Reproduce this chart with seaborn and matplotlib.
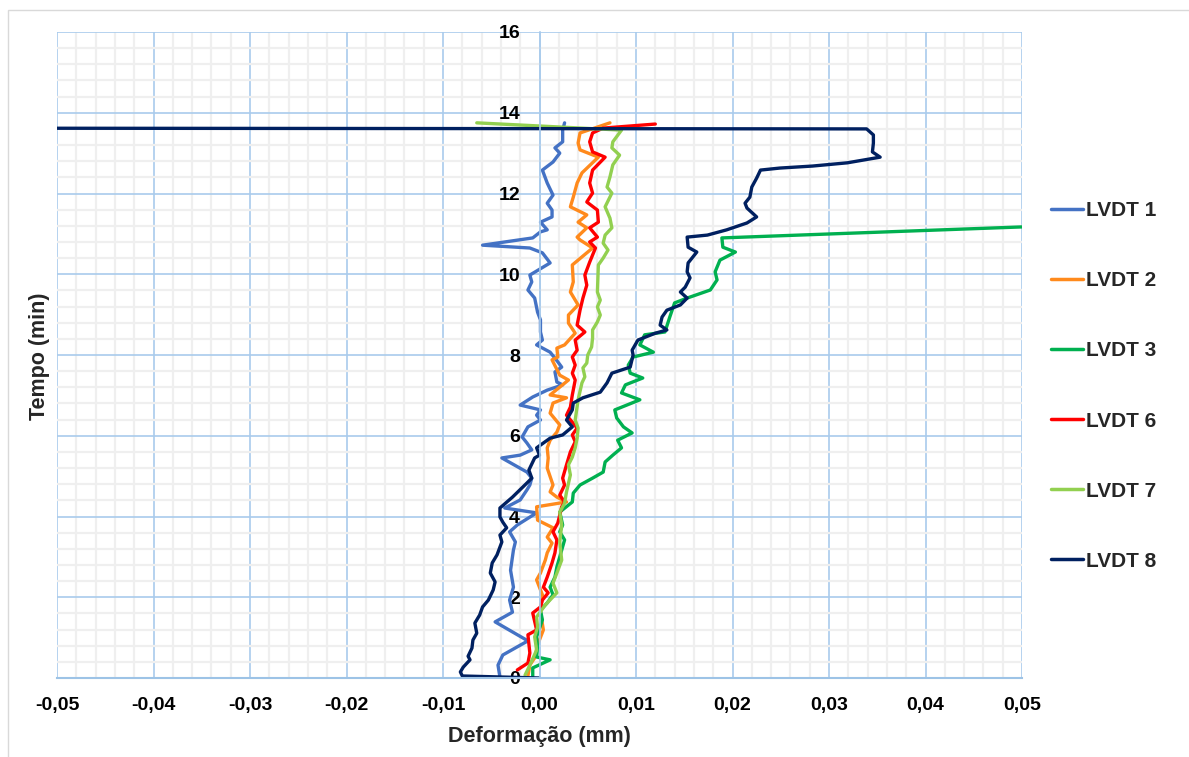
import numpy as np
import pandas as pd
import matplotlib.pyplot as plt
import matplotlib.ticker as mticker
from matplotlib.patches import Rectangle
import seaborn as sns

# valores (deformacao em mm, tempo em min)
lvdt1_x = [-0.0041, -0.0043, -0.0038, -0.0012, -0.0046, -0.0028, -0.0031, -0.0027, -0.0030, -0.0027,
           -0.0025, -0.0031, -0.0023, -0.0003, -0.0036, -0.0020, -0.0013, -0.0010, -0.0008, -0.0013,
           -0.0039, -0.0020, -0.0008, -0.0013, -0.0018, -0.0012, 0.0001, -0.0003, 0.0001, -0.0020,
           -0.0007, 0.0008, 0.0024, 0.0018, 0.0016, 0.0023, 0.0019, 0.0011, -0.0003, 0.0003,
           0.0001, 0.0001, -0.0002, -0.0005, -0.0012, -0.0008, -0.0010, 0.0011, 0.0003, -0.0010,
           -0.0059, -0.0007, 0.0001, 0.0008, 0.0001, 0.0013, 0.0013, 0.0008, 0.0014, 0.0008,
           0.0003, 0.0014, 0.0021, 0.0016, 0.0024, 0.0024, 0.0026]
lvdt1_t = [0.02, 0.32, 0.57, 0.92, 1.39, 1.63, 1.93, 2.25, 2.67, 3.17,
           3.37, 3.62, 3.79, 4.09, 4.21, 4.41, 4.66, 4.78, 4.95, 5.10,
           5.45, 5.52, 5.65, 5.82, 5.97, 6.22, 6.39, 6.51, 6.64, 6.76,
           6.96, 7.13, 7.26, 7.33, 7.58, 7.70, 7.83, 8.07, 8.25, 8.37,
           8.57, 8.87, 9.06, 9.41, 9.61, 9.81, 9.98, 10.28, 10.53, 10.65,
           10.72, 10.90, 11.05, 11.10, 11.29, 11.42, 11.59, 11.76, 11.96, 12.26,
           12.58, 12.78, 13.00, 13.13, 13.28, 13.57, 13.75]

lvdt2_x = [-0.0012, -0.0010, -0.0005, -0.0002, 0.0004, 0.0001, 0.0003, -0.0003, 0.0001, 0.0006,
           0.0008, 0.0013, 0.0008, 0.0014, -0.0002, -0.0003, 0.0028, 0.0018, 0.0011, 0.0014,
           0.0008, 0.0009, 0.0008, 0.0011, 0.0018, 0.0021, 0.0011, 0.0014, 0.0028, 0.0011,
           0.0030, 0.0021, 0.0013, 0.0019, 0.0018, 0.0026, 0.0037, 0.0030, 0.0030, 0.0040,
           0.0032, 0.0035, 0.0034, 0.0055, 0.0042, 0.0039, 0.0049, 0.0040, 0.0049, 0.0032,
           0.0035, 0.0039, 0.0044, 0.0061, 0.0042, 0.0040, 0.0042, 0.0073]
lvdt2_t = [0.05, 0.32, 0.50, 0.82, 1.19, 1.63, 2.06, 2.43, 2.60, 2.92,
           3.10, 3.34, 3.49, 3.72, 3.91, 4.24, 4.36, 4.48, 4.61, 4.78,
           5.20, 5.45, 5.70, 5.89, 6.09, 6.27, 6.56, 6.81, 6.94, 7.01,
           7.38, 7.50, 7.88, 7.95, 8.17, 8.25, 8.54, 8.79, 8.99, 9.24,
           9.56, 9.81, 10.23, 10.65, 10.85, 10.92, 11.15, 11.29, 11.47, 11.67,
           11.91, 12.26, 12.51, 12.90, 13.08, 13.25, 13.50, 13.75]

lvdt3_x = [-0.0007, -0.0007, 0.0011, -0.0003, -0.0002, -0.0003, 0.0003, 0.0001, 0.0008, 0.0014,
           0.0011, 0.0016, 0.0018, 0.0021, 0.0026, 0.0021, 0.0024, 0.0021, 0.0034, 0.0035,
           0.0042, 0.0055, 0.0066, 0.0068, 0.0076, 0.0085, 0.0081, 0.0096, 0.0087, 0.0080,
           0.0078, 0.0104, 0.0085, 0.0089, 0.0107, 0.0094, 0.0092, 0.0097, 0.0118, 0.0104,
           0.0109, 0.0130, 0.0135, 0.0140, 0.0153, 0.0177, 0.0184, 0.0182, 0.0187, 0.0203,
           0.0190, 0.0189, 0.0600]
lvdt3_t = [0.05, 0.25, 0.45, 0.52, 0.77, 1.02, 1.44, 1.68, 1.86, 2.06,
           2.25, 2.50, 2.75, 3.00, 3.42, 3.62, 3.79, 4.11, 4.36, 4.58,
           4.78, 4.95, 5.10, 5.35, 5.52, 5.70, 5.89, 6.07, 6.22, 6.44,
           6.64, 6.89, 7.06, 7.26, 7.43, 7.55, 7.75, 7.95, 8.07, 8.25,
           8.50, 8.57, 8.94, 9.29, 9.41, 9.61, 9.86, 10.06, 10.35, 10.55,
           10.67, 10.90, 11.26]

lvdt6_x = [-0.0023, -0.0012, -0.0010, -0.0012, -0.0003, -0.0007, 0.0001, 0.0003, 0.0009, 0.0004,
           0.0008, 0.0013, 0.0016, 0.0018, 0.0014, 0.0019, 0.0023, 0.0026, 0.0021, 0.0026,
           0.0024, 0.0028, 0.0032, 0.0037, 0.0034, 0.0039, 0.0028, 0.0032, 0.0034, 0.0037,
           0.0034, 0.0037, 0.0034, 0.0039, 0.0037, 0.0047, 0.0039, 0.0042, 0.0045, 0.0049,
           0.0047, 0.0052, 0.0058, 0.0052, 0.0060, 0.0052, 0.0061, 0.0060, 0.0049, 0.0055,
           0.0052, 0.0055, 0.0068, 0.0055, 0.0052, 0.0055, 0.0066, 0.0120]
lvdt6_t = [0.20, 0.37, 0.62, 1.07, 1.19, 1.61, 1.76, 1.93, 2.11, 2.25,
           2.50, 2.85, 3.10, 3.42, 3.62, 3.84, 4.24, 4.36, 4.53, 4.78,
           4.95, 5.28, 5.60, 5.85, 6.02, 6.19, 6.51, 6.71, 7.01, 7.38,
           7.55, 7.75, 7.95, 8.12, 8.37, 8.57, 8.74, 9.11, 9.41, 9.73,
           9.98, 10.30, 10.65, 10.80, 10.92, 11.15, 11.29, 11.59, 11.79, 12.01,
           12.26, 12.58, 12.90, 13.03, 13.28, 13.50, 13.62, 13.72]

lvdt7_x = [-0.0015, -0.0010, -0.0003, -0.0005, -0.0002, -0.0003, 0.0006, 0.0018, 0.0014, 0.0018,
           0.0023, 0.0021, 0.0023, 0.0021, 0.0026, 0.0028, 0.0032, 0.0030, 0.0034, 0.0037,
           0.0039, 0.0040, 0.0037, 0.0040, 0.0044, 0.0047, 0.0045, 0.0049, 0.0050, 0.0054,
           0.0055, 0.0055, 0.0060, 0.0063, 0.0060, 0.0063, 0.0060, 0.0061, 0.0066, 0.0071,
           0.0066, 0.0068, 0.0075, 0.0073, 0.0068, 0.0075, 0.0070, 0.0073, 0.0076, 0.0083,
           0.0075, 0.0076, 0.0085, -0.0065]
lvdt7_t = [0.07, 0.32, 0.69, 1.02, 1.26, 1.51, 1.81, 2.11, 2.35, 2.60,
           2.92, 3.37, 3.79, 4.11, 4.33, 4.61, 5.03, 5.28, 5.47, 5.70,
           5.94, 6.19, 6.39, 6.89, 7.31, 7.46, 7.68, 7.80, 8.00, 8.20,
           8.42, 8.62, 8.82, 8.99, 9.19, 9.36, 9.56, 10.23, 10.40, 10.60,
           10.77, 10.97, 11.15, 11.39, 11.67, 12.01, 12.16, 12.41, 12.71, 12.95,
           13.13, 13.28, 13.57, 13.75]

lvdt8_x = [0.0000, -0.0080, -0.0082, -0.0079, -0.0072, -0.0074, -0.0070, -0.0069, -0.0065, -0.0067,
           -0.0062, -0.0059, -0.0053, -0.0048, -0.0046, -0.0051, -0.0049, -0.0044, -0.0039, -0.0041,
           -0.0034, -0.0038, -0.0041, -0.0041, -0.0028, -0.0013, -0.0008, -0.0011, -0.0005, 0.0000,
           -0.0003, 0.0004, 0.0011, 0.0024, 0.0034, 0.0028, 0.0034, 0.0035, 0.0045, 0.0063,
           0.0070, 0.0075, 0.0094, 0.0097, 0.0096, 0.0102, 0.0120, 0.0132, 0.0125, 0.0127,
           0.0132, 0.0146, 0.0153, 0.0146, 0.0151, 0.0156, 0.0153, 0.0154, 0.0163, 0.0154,
           0.0153, 0.0174, 0.0194, 0.0215, 0.0225, 0.0215, 0.0213, 0.0218, 0.0220, 0.0225,
           0.0229, 0.0249, 0.0283, 0.0319, 0.0353, 0.0345, 0.0346, 0.0346, 0.0339, -0.0700]
lvdt8_t = [0.00, 0.05, 0.15, 0.27, 0.45, 0.54, 0.74, 0.94, 1.11, 1.36,
           1.56, 1.76, 1.93, 2.18, 2.38, 2.60, 2.85, 3.05, 3.37, 3.54,
           3.72, 3.86, 3.99, 4.21, 4.48, 4.83, 4.95, 5.15, 5.45, 5.52,
           5.70, 5.82, 5.94, 6.02, 6.22, 6.39, 6.64, 6.81, 6.94, 7.08,
           7.31, 7.55, 7.70, 8.00, 8.12, 8.37, 8.54, 8.62, 8.74, 8.94,
           9.11, 9.24, 9.41, 9.56, 9.68, 9.91, 10.06, 10.28, 10.55, 10.67,
           10.92, 10.97, 11.10, 11.27, 11.42, 11.64, 11.76, 11.91, 12.16, 12.38,
           12.58, 12.63, 12.68, 12.76, 12.90, 13.03, 13.25, 13.45, 13.60, 13.62]

series_names = ["LVDT 1", "LVDT 2", "LVDT 3", "LVDT 6", "LVDT 7", "LVDT 8"]
series_colors = ["#4472C4", "#FF8A1C", "#00B050", "#FF0000", "#92D050", "#002060"]
x_ticks = [-0.05, -0.04, -0.03, -0.02, -0.01, 0.0, 0.01, 0.02, 0.03, 0.04, 0.05]
x_labels = ["-0,05", "-0,04", "-0,03", "-0,02", "-0,01", "0,00", "0,01", "0,02", "0,03", "0,04", "0,05"]
y_ticks = [0, 2, 4, 6, 8, 10, 12, 14, 16]

all_x = [lvdt1_x, lvdt2_x, lvdt3_x, lvdt6_x, lvdt7_x, lvdt8_x]
all_t = [lvdt1_t, lvdt2_t, lvdt3_t, lvdt6_t, lvdt7_t, lvdt8_t]
frames = []
for name, xs, ts in zip(series_names, all_x, all_t):
    frames.append(pd.DataFrame({"Deformacao": xs, "Tempo": ts, "Serie": name}))
df = pd.concat(frames, ignore_index=True)

sns.set_theme(style="white")
plt.rcParams["font.family"] = ["Liberation Sans", "DejaVu Sans"]
plt.rcParams["font.weight"] = "bold"

fig = plt.figure(figsize=(11.89, 7.57), dpi=100)
ax = fig.add_axes([57 / 1189, 1 - 678 / 757, (1022 - 57) / 1189, (678 - 32) / 757])

sns.lineplot(
    data=df, x="Deformacao", y="Tempo", hue="Serie",
    palette=dict(zip(series_names, series_colors)),
    sort=False, estimator=None, linewidth=2.4, ax=ax, legend=False
)

# eixo vertical cruza em x = 0 (antes de definir os ticks, pois reinicia os ticks)
for s in ["top", "right"]:
    ax.spines[s].set_visible(False)
ax.spines["left"].set_position(("data", 0))
ax.spines["left"].set_color("#A9CBEC")
ax.spines["bottom"].set_color("#9DC3E6")
ax.spines["left"].set_linewidth(1.2)
ax.spines["bottom"].set_linewidth(1.5)

ax.set_xlim(-0.05, 0.05)
ax.set_ylim(0, 16)
ax.set_xticks(x_ticks)
ax.set_xticklabels(x_labels, fontweight="bold")
ax.set_yticks(y_ticks)
ax.set_yticklabels([str(v) for v in y_ticks], fontweight="bold")
ax.xaxis.set_minor_locator(mticker.MultipleLocator(0.002))
ax.yaxis.set_minor_locator(mticker.MultipleLocator(0.4))
ax.grid(which="minor", color="#EFEFEF", linewidth=1.6, zorder=0)
ax.grid(which="major", color="#A9CBEC", linewidth=1.2, zorder=0)
ax.set_axisbelow(True)
ax.tick_params(axis="x", which="both", length=0, pad=14, colors="black", labelsize=14)
ax.tick_params(axis="y", which="both", length=0, pad=14, colors="black", labelsize=14)

ax.set_xlabel("Deformação (mm)", fontsize=15.5, fontweight="bold", labelpad=8)
ax.set_ylabel("")
fig.text(40 / 1189, 1 - 356 / 757, "Tempo (min)", rotation=90, fontsize=15.5,
         fontweight="bold", ha="center", va="center")

handles = [plt.Line2D([], [], color=c, linewidth=2.5) for c in series_colors]
leg = fig.legend(handles, series_names, loc="center left",
                 bbox_to_anchor=(1051 / 1189, 1 - 386 / 757), frameon=False,
                 borderpad=0, borderaxespad=0,
                 prop={"size": 15, "weight": "bold"}, labelspacing=2.45,
                 handlelength=1.55, handletextpad=0.15)

fig.patches.append(Rectangle((8 / 1189, -0.01), 1.0, 1 - 10 / 757 + 0.01,
                             transform=fig.transFigure, fill=False,
                             edgecolor="#D9D9D9", linewidth=1.0))

fig.savefig("out.png", dpi=100)
